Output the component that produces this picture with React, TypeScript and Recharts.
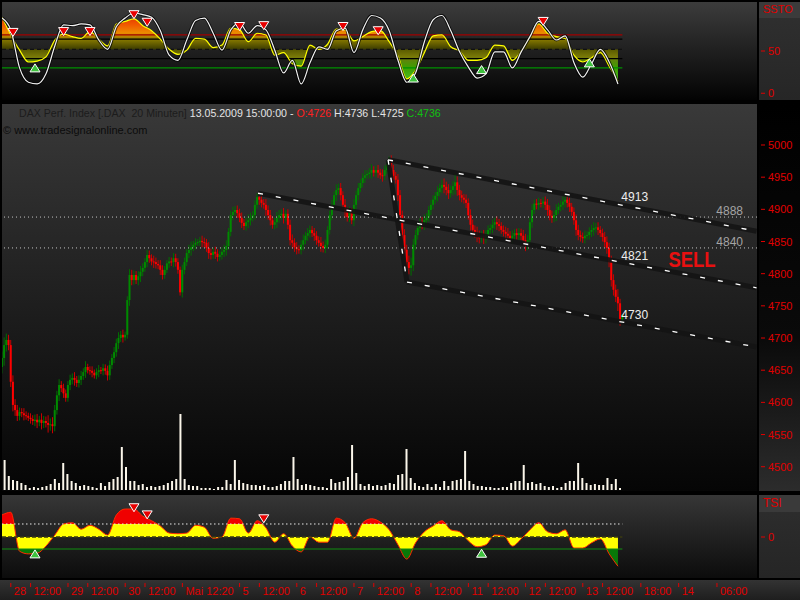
import {
  Area,
  Bar,
  BarChart,
  ComposedChart,
  Line,
  ReferenceDot,
  ReferenceLine,
  Scatter,
  XAxis,
  YAxis,
} from 'recharts'

const FONT = '"Liberation Sans", Arial, sans-serif'
const AXIS_RED = '#e00000'

// x positions are 20-minute bar slots; the plot holds 343 of them (the last ones are future time)
const X_DOMAIN: [number, number] = [0, 343.2]

// 20-minute closes, one array per session
const apr27Tail = [4669, 4689, 4697, 4689]
const apr28 = [4632, 4596, 4588, 4579, 4585, 4583, 4580, 4579, 4576, 4574, 4571, 4573, 4569, 4573, 4568, 4571, 4568, 4565, 4566, 4563, 4588, 4611, 4627, 4622, 4614, 4607]
const apr29 = [4627, 4635, 4638, 4635, 4630, 4635, 4641, 4647, 4655, 4650, 4649, 4646, 4642, 4647, 4650, 4649, 4653, 4649, 4642, 4658, 4669, 4678, 4692, 4700, 4705, 4701]
const apr30 = [4705, 4759, 4798, 4790, 4798, 4790, 4796, 4803, 4809, 4818, 4829, 4824, 4819, 4818, 4815, 4813, 4806, 4798, 4806, 4816, 4819, 4818, 4824, 4818, 4806, 4771]
const may04 = [4806, 4818, 4832, 4837, 4841, 4845, 4848, 4849, 4851, 4849, 4848, 4840, 4832, 4829, 4834, 4831, 4826, 4829, 4834, 4837, 4843, 4865, 4891, 4896, 4899, 4894]
const may05 = [4887, 4879, 4874, 4880, 4883, 4887, 4891, 4907, 4919, 4915, 4910, 4907, 4899, 4891, 4883, 4876, 4880, 4887, 4891, 4893, 4887, 4893, 4876, 4852, 4848, 4841]
const may06 = [4838, 4837, 4845, 4852, 4859, 4863, 4868, 4863, 4859, 4852, 4848, 4843, 4840, 4845, 4868, 4891, 4907, 4922, 4930, 4933, 4922, 4907, 4896, 4888, 4896, 4883]
const may07 = [4907, 4922, 4933, 4941, 4949, 4953, 4955, 4957, 4961, 4957, 4961, 4957, 4953, 4952, 4961, 4970, 4977, 4961, 4952, 4946, 4922, 4891, 4860, 4837, 4818, 4809]
const may08 = [4813, 4845, 4860, 4871, 4880, 4877, 4883, 4887, 4899, 4907, 4915, 4921, 4927, 4933, 4938, 4935, 4930, 4925, 4930, 4936, 4942, 4930, 4922, 4918, 4915, 4910]
const may11 = [4891, 4876, 4868, 4863, 4859, 4855, 4859, 4855, 4860, 4868, 4871, 4876, 4880, 4877, 4874, 4868, 4865, 4862, 4859, 4855, 4859, 4863, 4860, 4863, 4859, 4852]
const may12 = [4845, 4852, 4880, 4899, 4909, 4907, 4910, 4909, 4912, 4907, 4899, 4890, 4887, 4891, 4899, 4904, 4907, 4912, 4915, 4910, 4904, 4896, 4883, 4868, 4860, 4857]
const may13 = [4855, 4859, 4860, 4865, 4868, 4871, 4872, 4868, 4863, 4857, 4849, 4840, 4818, 4790, 4775, 4764, 4754, 4726, 4736]
const firstOpen = 4655

// shadow length of each bar beyond its body, in points
const wk27 = [10, 12, 10, 8]
const wk28 = [8, 10, 9, 8, 7, 6, 8, 6, 5, 7, 6, 8, 9, 6, 10, 8, 7, 12, 9, 11, 8, 7, 9, 6, 7, 6]
const wk29 = [6, 8, 7, 9, 6, 7, 8, 6, 9, 5, 6, 7, 5, 6, 8, 5, 7, 6, 8, 7, 6, 8, 7, 9, 6, 8]
const wk30 = [5, 6, 9, 8, 7, 6, 8, 9, 7, 6, 8, 7, 6, 9, 7, 6, 8, 7, 6, 5, 7, 6, 8, 7, 6, 5]
const wk04 = [8, 7, 6, 8, 9, 6, 7, 5, 6, 8, 7, 6, 9, 7, 6, 8, 7, 6, 7, 8, 9, 6, 7, 8, 6, 7]
const wk05 = [7, 8, 6, 7, 9, 8, 6, 7, 6, 8, 7, 6, 9, 7, 8, 6, 7, 9, 8, 7, 9, 6, 7, 8, 9, 7]
const wk06 = [8, 6, 7, 9, 6, 8, 7, 6, 8, 7, 6, 9, 7, 8, 6, 7, 8, 6, 9, 7, 8, 6, 9, 7, 8, 6]
const wk07 = [9, 7, 8, 6, 7, 8, 6, 7, 9, 6, 7, 8, 6, 9, 7, 6, 5, 7, 8, 6, 9, 8, 7, 9, 8, 10]
const wk08 = [12, 9, 8, 7, 6, 8, 9, 7, 6, 8, 7, 6, 9, 7, 8, 10, 8, 9, 7, 8, 13, 9, 8, 7, 6, 8]
const wk11 = [7, 9, 8, 7, 10, 8, 7, 9, 8, 7, 6, 8, 7, 9, 8, 6, 7, 8, 9, 7, 8, 6, 7, 8, 7, 9]
const wk12 = [10, 8, 7, 9, 6, 7, 8, 6, 7, 8, 9, 7, 8, 7, 9, 6, 7, 8, 9, 7, 8, 6, 7, 9, 8, 7]
const wk13 = [7, 8, 6, 7, 8, 9, 7, 8, 6, 7, 8, 9, 8, 10, 9, 8, 12, 7, 1]

// volume bars (thousand contracts)
const volumeApr = [30, 14, 10, 9, 7, 5, 2, 3, 2, 3, 4, 6, 11, 7, 27, 16, 9, 7, 4, 5, 4, 3, 2, 7, 4, 8, 11, 13, 43, 23, 9, 9, 5, 6, 3, 4, 3, 4, 5, 7, 9, 11, 76, 11, 5, 4, 4, 2, 2, 2, 1, 3, 3, 10, 6, 30, 10, 7, 6, 5, 5, 4, 5, 3, 3, 4, 6, 9, 9, 33, 11, 5, 6, 5, 4, 3]
const volumeMay = [3, 2, 11, 7, 8, 9, 13, 45, 17, 6, 4, 6, 4, 5, 4, 5, 7, 6, 15, 16, 41, 12, 7, 4, 3, 6, 3, 6, 3, 9, 4, 9, 10, 11, 39, 9, 6, 4, 4, 3, 3, 2, 2, 3, 3, 7, 9, 9, 25, 7, 8, 6, 7, 4, 3, 4, 2, 3, 7, 9, 9, 27, 12, 7, 5, 6, 5, 5, 12, 6, 11, 2]

// oscillators, sampled every 4th bar
const sstoK = [89, 75, 30, 13, 11, 23, 56, 81, 80, 82, 81, 63, 52, 79, 89, 95, 93, 90, 74, 45, 39, 63, 86, 89, 71, 51, 75, 83, 71, 80, 75, 51, 24, 39, 11, 36, 55, 52, 74, 77, 48, 75, 92, 89, 74, 39, 13, 24, 61, 87, 92, 74, 49, 31, 18, 23, 49, 49, 30, 49, 67, 85, 75, 63, 68, 36, 19, 35, 52, 37, 11]
const sstoD = [90, 69, 51, 37, 38, 43, 63, 70, 67, 65, 73, 64, 56, 82, 85, 88, 80, 74, 64, 52, 46, 51, 65, 64, 54, 57, 77, 75, 61, 71, 69, 45, 48, 35, 32, 57, 52, 58, 76, 75, 62, 67, 73, 74, 61, 44, 17, 27, 48, 68, 69, 55, 50, 39, 39, 42, 57, 56, 39, 50, 67, 82, 71, 67, 65, 45, 37, 42, 48, 32, 14]
const tsiValues = [34, 38, -22, -26, -25, -14, 3, 20, 22, 12, 18, 12, 3, 34, 43, 43, 32, 25, 17, 6, 5, 6, 18, 15, -2, 0, 29, 28, 6, 25, 14, -8, 5, -14, -23, 0, -8, -8, 29, 22, -2, 22, 28, 23, 11, -12, -34, -9, 8, 17, 25, 11, 8, -6, -15, -12, 3, 2, -14, -3, 11, 22, 8, 5, 11, -17, -17, -9, -3, -26, -45]

// signal markers
const sstoSellAt = [5, 28, 40, 60, 66, 108, 119, 155, 171, 246]
const sstoSellVal = [72, 73, 73, 93, 84, 79, 80, 79, 74, 85]
const sstoBuyAt = [15, 187, 218, 267]
const sstoBuyVal = [30, 18, 28, 36]
const tsiSellAt = [60, 66, 119]
const tsiSellVal = [45, 34, 28]
const tsiBuyAt = [15, 218]
const tsiBuyVal = [-26, -25]

// trend channel (slot, price)
const channelTop = [{ x: 175.5, y: 4977 }, { x: 343, y: 4866 }]
const channelMid = [{ x: 116.4, y: 4925 }, { x: 343, y: 4778 }]
const channelLow = [{ x: 184.1, y: 4787 }, { x: 343, y: 4686 }]
const channelLink = [{ x: 175.5, y: 4977 }, { x: 184.1, y: 4787 }]
const channelLabels = [4913, 4821, 4730]

const priceTicks = [4500, 4550, 4600, 4650, 4700, 4750, 4800, 4850, 4900, 4950, 5000]
const timeTicks = [4, 13, 30, 39, 56, 65, 82, 108, 117, 134, 143, 160, 169, 186, 195, 212, 221, 238, 247, 264, 273, 290.4, 307.6, 325]
const timeLabels = ['28', '12:00', '29', '12:00', '30', '12:00', 'Mai 12:20', '5', '12:00', '6', '12:00', '7', '12:00', '8', '12:00', '11', '12:00', '12', '12:00', '13', '12:00', '18:00', '14', '06:00']

const closes = [apr27Tail, apr28, apr29, apr30, may04, may05, may06, may07, may08, may11, may12, may13].flat()
const wicks = [wk27, wk28, wk29, wk30, wk04, wk05, wk06, wk07, wk08, wk11, wk12, wk13].flat()

const candles = closes.map((c, t) => {
  const o = t === 0 ? firstOpen : closes[t - 1]
  const w = wicks[t]
  return { t, o, c, range: [Math.min(o, c) - w, Math.max(o, c) + w] }
})
const volumeData = [...volumeApr, ...volumeMay].map((v, k) => ({ k, v }))
const sstoData = sstoK.map((k, i) => ({ t: i * 4, k, d: sstoD[i] }))
const tsiData = tsiValues.map((v, i) => ({ t: i * 4, v }))
const pairs = (at: number[], val: number[]) => at.map((t, i) => ({ t, v: val[i] }))

function Candle(props: any) {
  const { x, y, width, height, payload } = props
  const top = Math.min(y, y + height)
  const h = Math.abs(height)
  const [lo, hi] = payload.range
  const k = h / (hi - lo)
  const up = payload.c >= payload.o
  const bodyTop = top + (hi - Math.max(payload.o, payload.c)) * k
  const bodyH = Math.max(1, Math.abs(payload.c - payload.o) * k)
  const cx = x + width / 2
  return (
    <g>
      <rect x={cx - 0.5} y={top} width={1} height={h} fill={up ? '#006e00' : '#c80000'} />
      <rect x={cx - 1} y={bodyTop} width={2} height={bodyH} fill={up ? '#008a00' : '#ff0000'} />
    </g>
  )
}

function DownMark(props: any) {
  const { cx, cy } = props
  return <path d={`M${cx - 5},${cy - 4}L${cx + 5},${cy - 4}L${cx},${cy + 4}Z`} fill="#e80000" stroke="#fff" strokeWidth={1} />
}

function UpMark(props: any) {
  const { cx, cy } = props
  return <path d={`M${cx - 5},${cy + 4}L${cx + 5},${cy + 4}L${cx},${cy - 4}Z`} fill="#3ec23e" stroke="#fff" strokeWidth={1} />
}

function AxisTick(props: any) {
  const { y, payload } = props
  return (
    <g>
      <line x1={761} x2={765} y1={y} y2={y} stroke={AXIS_RED} />
      <text x={768} y={y + 4} fill={AXIS_RED} fontSize={11} fontFamily={FONT}>
        {payload.value}
      </text>
    </g>
  )
}

function TimeTick(props: any) {
  const { x, payload } = props
  const label = timeLabels[timeTicks.indexOf(payload.value)]
  return (
    <g>
      <line x1={x} x2={x} y1={89} y2={93} stroke={AXIS_RED} />
      <text x={x + 3} y={101} fill={AXIS_RED} fontSize={11} fontFamily={FONT}>
        {label}
      </text>
    </g>
  )
}

const levelLabel = (text: string) => (p: any) => (
  <text x={p.viewBox.x + p.viewBox.width - 14} y={p.viewBox.y - 2} textAnchor="end" fill="#a4a4a4" fontSize={12} fontFamily={FONT}>
    {text}
  </text>
)

const channelLabel = (text: string) => (p: any) => (
  <text x={p.viewBox.x - 1} y={p.viewBox.y} fill="#eeeeee" fontSize={12} fontFamily={FONT}>
    {text}
  </text>
)

const sellLabel = (p: any) => (
  <text
    x={p.viewBox.x}
    y={p.viewBox.y}
    fill="#e81010"
    fontSize={22}
    fontWeight="bold"
    fontFamily={FONT}
    textLength={47}
    lengthAdjust="spacingAndGlyphs"
  >
    SELL
  </text>
)

function Panel({ left, top, width, height, bg }: { left: number; top: number; width: number; height: number; bg: string }) {
  return <div style={{ position: 'absolute', left, top, width, height, background: bg }} />
}

const oscSegment = (v: number) => [{ x: 0, y: v }, { x: 282, y: v }]

export default function App() {
  return (
    <div style={{ position: 'absolute', left: 0, top: 0, width: 800, height: 600, background: '#000', overflow: 'hidden', fontFamily: FONT }}>
      <Panel left={2} top={2} width={755} height={98} bg="linear-gradient(#3c3c3c, #030303)" />
      <Panel left={759} top={2} width={41} height={98} bg="linear-gradient(#303030, #262626)" />
      <Panel left={2} top={104} width={755} height={387} bg="linear-gradient(#393939, #050505)" />
      <Panel left={759} top={104} width={41} height={387} bg="linear-gradient(#000 0%, #0a0a0a 60%, #2c2c2c 100%)" />
      <Panel left={2} top={495} width={755} height={83} bg="linear-gradient(#363636, #0c0c0c)" />
      <Panel left={759} top={495} width={41} height={83} bg="linear-gradient(#2e2e2e, #252525)" />
      <Panel left={0} top={580} width={800} height={20} bg="linear-gradient(#333, #1e1e1e)" />

      <div style={{ position: 'absolute', left: 759, top: 2, width: 41, height: 16, background: '#3b3b3b' }}>
        <span style={{ position: 'absolute', left: 4, top: 1, color: AXIS_RED, fontSize: 11, whiteSpace: 'nowrap' }}>SSTO</span>
      </div>
      <div style={{ position: 'absolute', left: 759, top: 495, width: 41, height: 17, background: '#3a3a3a' }}>
        <span style={{ position: 'absolute', left: 4, top: 1, color: AXIS_RED, fontSize: 12 }}>TSI</span>
      </div>

      <div style={{ position: 'absolute', left: 0, top: 0 }}>
        <ComposedChart width={800} height={102} data={sstoData} margin={{ top: 2, right: 0, bottom: 2, left: 2 }}>
          <defs>
            <linearGradient id="sstoFill" gradientUnits="userSpaceOnUse" x1="0" y1="0" x2="0" y2="100">
              <stop offset="0.08" stopColor="#d81800" />
              <stop offset="0.25" stopColor="#f05a00" />
              <stop offset="0.33" stopColor="#ec8c00" />
              <stop offset="0.39" stopColor="#8a7c00" />
              <stop offset="0.49" stopColor="#3e3e00" />
              <stop offset="0.50" stopColor="#5c5c00" />
              <stop offset="0.57" stopColor="#7a7a08" />
              <stop offset="0.61" stopColor="#5a880a" />
              <stop offset="0.68" stopColor="#3ca000" />
              <stop offset="0.90" stopColor="#60d040" />
            </linearGradient>
          </defs>
          <XAxis dataKey="t" type="number" domain={X_DOMAIN} hide allowDataOverflow />
          <YAxis orientation="right" width={43} domain={[-8, 108]} ticks={[0, 50]} interval={0} tick={<AxisTick />} axisLine={false} tickLine={false} allowDataOverflow />
          <Area dataKey="d" type="monotone" baseValue={52} fill="url(#sstoFill)" fillOpacity={1} stroke="none" isAnimationActive={false} />
          <ReferenceLine segment={oscSegment(69)} stroke="#a00000" strokeWidth={1.2} />
          <ReferenceLine segment={oscSegment(64)} stroke="#000" strokeWidth={1.2} />
          <ReferenceLine segment={oscSegment(52)} stroke="#111" strokeWidth={1.2} strokeDasharray="4 3" />
          <ReferenceLine segment={oscSegment(41)} stroke="#000" strokeWidth={1.2} />
          <ReferenceLine segment={oscSegment(30)} stroke="#009000" strokeWidth={1.2} />
          <Line dataKey="d" type="monotone" stroke="#ffff00" strokeWidth={1.2} dot={false} isAnimationActive={false} />
          <Line dataKey="k" type="monotone" stroke="#000" strokeOpacity={0.75} strokeWidth={3} dot={false} isAnimationActive={false} />
          <Line dataKey="k" type="monotone" stroke="#f2f2f2" strokeWidth={1.2} dot={false} isAnimationActive={false} />
          <Scatter data={pairs(sstoSellAt, sstoSellVal)} dataKey="v" shape={<DownMark />} isAnimationActive={false} />
          <Scatter data={pairs(sstoBuyAt, sstoBuyVal)} dataKey="v" shape={<UpMark />} isAnimationActive={false} />
        </ComposedChart>
      </div>

      <div style={{ position: 'absolute', left: 0, top: 103 }}>
        <BarChart width={800} height={389} data={volumeData} margin={{ top: 1, right: 43, bottom: 2, left: 2 }}>
          <XAxis dataKey="k" type="number" domain={[-0.645, 179.7]} hide allowDataOverflow />
          <YAxis domain={[0, 386]} hide />
          <Bar dataKey="v" barSize={2} fill="#fbf6ea" isAnimationActive={false} />
        </BarChart>
      </div>

      <div style={{ position: 'absolute', left: 19, top: 107, fontSize: 10.6, lineHeight: '13px', whiteSpace: 'pre' }}>
        <span style={{ color: '#1c1c1c' }}>DAX Perf. Index [.DAX  20 Minuten] </span>
        <span style={{ color: '#e4e4e4' }}>13.05.2009 15:00:00 - </span>
        <span style={{ color: '#ff2020' }}>O:4726 </span>
        <span style={{ color: '#e4e4e4' }}>H:4736 L:4725 </span>
        <span style={{ color: '#10c010' }}>C:4736</span>
      </div>
      <div style={{ position: 'absolute', left: 3, top: 124, fontSize: 11, lineHeight: '13px', color: '#0c0c0c', whiteSpace: 'pre' }}>
        © www.tradesignalonline.com
      </div>

      <div style={{ position: 'absolute', left: 0, top: 103 }}>
        <ComposedChart width={800} height={389} data={candles} margin={{ top: 1, right: 0, bottom: 2, left: 2 }}>
          <XAxis dataKey="t" type="number" domain={X_DOMAIN} hide allowDataOverflow />
          <YAxis orientation="right" width={43} domain={[4463.8, 5063.7]} ticks={priceTicks} interval={0} tick={<AxisTick />} axisLine={false} tickLine={false} allowDataOverflow />
          <ReferenceLine y={4888} stroke="#c4c4c4" strokeDasharray="1 3" label={levelLabel('4888')} />
          <ReferenceLine y={4840} stroke="#c4c4c4" strokeDasharray="1 3" label={levelLabel('4840')} />
          <Bar dataKey="range" barSize={2} shape={<Candle />} isAnimationActive={false} />
          {[channelTop, channelMid, channelLow, channelLink].map((seg, i) => (
            <ReferenceLine key={`sh${i}`} segment={seg} stroke="#141414" strokeOpacity={0.9} strokeWidth={5} />
          ))}
          {[channelTop, channelMid, channelLow, channelLink].map((seg, i) => (
            <ReferenceLine key={`ln${i}`} segment={seg} stroke="#ffffff" strokeWidth={1.3} strokeDasharray="5 13" />
          ))}
          {channelLabels.map((v) => (
            <ReferenceDot key={v} x={282} y={v} r={0} stroke="none" label={channelLabel(String(v))} />
          ))}
          <ReferenceDot x={303} y={4811} r={0} stroke="none" label={sellLabel} />
        </ComposedChart>
      </div>

      <div style={{ position: 'absolute', left: 0, top: 494 }}>
        <ComposedChart width={800} height={106} data={tsiData} margin={{ top: 1, right: 0, bottom: 0, left: 2 }}>
          <defs>
            <linearGradient id="tsiFill" gradientUnits="userSpaceOnUse" x1="0" y1="0" x2="0" y2="106">
              <stop offset="0" stopColor="#f00000" />
              <stop offset={30 / 106} stopColor="#f00000" />
              <stop offset={30 / 106} stopColor="#ffff00" />
              <stop offset={55 / 106} stopColor="#ffff00" />
              <stop offset={55 / 106} stopColor="#087808" />
              <stop offset="1" stopColor="#087808" />
            </linearGradient>
          </defs>
          <XAxis
            dataKey="t"
            type="number"
            domain={X_DOMAIN}
            ticks={timeTicks}
            interval={0}
            height={22}
            tick={<TimeTick />}
            axisLine={false}
            tickLine={false}
            allowDataOverflow
          />
          <YAxis orientation="right" width={43} domain={[-63.1, 64.6]} ticks={[0]} interval={0} tick={<AxisTick />} axisLine={false} tickLine={false} allowDataOverflow />
          <Area dataKey="v" type="monotone" baseValue={0} fill="url(#tsiFill)" fillOpacity={1} stroke="#ff2a00" strokeWidth={1} isAnimationActive={false} />
          <ReferenceLine segment={oscSegment(20)} stroke="#e8e8e8" strokeDasharray="1.5 2.5" />
          <ReferenceLine segment={oscSegment(0)} stroke="#3a3a10" strokeWidth={1.6} strokeDasharray="4 2" />
          <ReferenceLine segment={oscSegment(-18.5)} stroke="#109010" strokeWidth={1.2} />
          <Scatter data={pairs(tsiSellAt, tsiSellVal)} dataKey="v" shape={<DownMark />} isAnimationActive={false} />
          <Scatter data={pairs(tsiBuyAt, tsiBuyVal)} dataKey="v" shape={<UpMark />} isAnimationActive={false} />
        </ComposedChart>
      </div>
    </div>
  )
}
